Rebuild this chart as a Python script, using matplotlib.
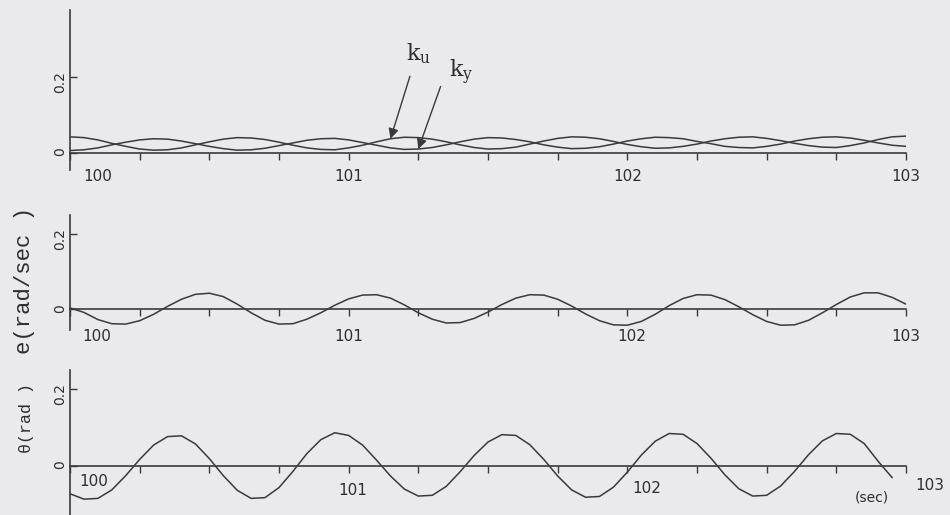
import numpy as np
import matplotlib.pyplot as plt
from matplotlib.ticker import MultipleLocator

# sample times (s), one reading every 0.05 s
t = np.linspace(100.0, 103.0, 61)

# gains k_u and k_y (top panel)
ku = [0.042, 0.040, 0.034, 0.025, 0.017, 0.010, 0.007,
      0.008, 0.013, 0.021, 0.029, 0.036, 0.040,
      0.039, 0.035, 0.028, 0.020, 0.013, 0.009,
      0.008, 0.013, 0.020, 0.029, 0.037, 0.041,
      0.040, 0.036, 0.029, 0.021, 0.014, 0.010,
      0.011, 0.015, 0.023, 0.031, 0.038, 0.042,
      0.041, 0.037, 0.030, 0.022, 0.016, 0.012,
      0.013, 0.017, 0.023, 0.031, 0.037, 0.041,
      0.042, 0.038, 0.032, 0.025, 0.019, 0.015,
      0.014, 0.019, 0.026, 0.035, 0.042, 0.044]
ky = [0.006, 0.008, 0.013, 0.021, 0.028, 0.034, 0.037,
      0.036, 0.031, 0.024, 0.017, 0.011, 0.007,
      0.008, 0.012, 0.019, 0.026, 0.033, 0.037,
      0.038, 0.034, 0.027, 0.020, 0.013, 0.009,
      0.010, 0.014, 0.021, 0.029, 0.036, 0.040,
      0.039, 0.035, 0.029, 0.021, 0.015, 0.011,
      0.012, 0.016, 0.023, 0.031, 0.037, 0.041,
      0.040, 0.037, 0.030, 0.024, 0.017, 0.014,
      0.013, 0.017, 0.023, 0.031, 0.037, 0.041,
      0.042, 0.039, 0.033, 0.026, 0.020, 0.017]

# e (rad/sec), middle panel
e = [0.004, -0.008, -0.027, -0.038, -0.039, -0.030, -0.013,
     0.008, 0.027, 0.040, 0.043, 0.034, 0.014,
     -0.009, -0.029, -0.039, -0.038, -0.026, -0.009,
     0.011, 0.028, 0.038, 0.039, 0.030, 0.012,
     -0.009, -0.026, -0.036, -0.035, -0.024, -0.007,
     0.013, 0.030, 0.039, 0.038, 0.027, 0.009,
     -0.012, -0.030, -0.041, -0.042, -0.032, -0.013,
     0.010, 0.029, 0.039, 0.038, 0.026, 0.007,
     -0.014, -0.032, -0.042, -0.041, -0.029, -0.009,
     0.013, 0.033, 0.044, 0.044, 0.032, 0.014]

# theta (rad), bottom panel, trace stops at 102.95 s
theta = [-0.072, -0.086, -0.084, -0.062, -0.025, 0.017, 0.054, 0.076,
         0.078, 0.057, 0.019, -0.025, -0.063, -0.084,
         -0.082, -0.056, -0.014, 0.032, 0.068, 0.086,
         0.079, 0.054, 0.015, -0.026, -0.060, -0.078,
         -0.076, -0.053, -0.015, 0.027, 0.062, 0.081,
         0.079, 0.055, 0.017, -0.026, -0.062, -0.081,
         -0.079, -0.055, -0.016, 0.028, 0.064, 0.084,
         0.082, 0.058, 0.020, -0.023, -0.059, -0.078,
         -0.076, -0.052, -0.014, 0.029, 0.065, 0.084,
         0.082, 0.058, 0.012, -0.030]

x_ticks = [100, 101, 102, 103]
x_labels = ['100', '101', '102', '103']
y_ticks = [0, 0.2]
y_labels = ['0', '0.2']

bg = '#eae9eb'
ink = '#3a3a3a'
txt = '#2e2e2e'
serif = ['DejaVu Serif']
mono = ['Liberation Mono', 'DejaVu Sans Mono']

plt.rcParams['mathtext.fontset'] = 'custom'
plt.rcParams['mathtext.rm'] = 'DejaVu Serif'

fig = plt.figure(figsize=(9.5, 5.15), dpi=100, facecolor=bg)
ax1 = fig.add_axes([0.0737, 0.670, 0.88, 0.311])
ax2 = fig.add_axes([0.0737, 0.359, 0.88, 0.223])
ax3 = fig.add_axes([0.0737, 0.0, 0.88, 0.282])


def style(ax, ylo, yhi):
    ax.set_facecolor('none')
    ax.set_xlim(100, 103)
    ax.set_ylim(ylo, yhi)
    ax.spines['top'].set_visible(False)
    ax.spines['right'].set_visible(False)
    ax.spines['bottom'].set_position(('data', 0))
    for s in ('left', 'bottom'):
        ax.spines[s].set_color(ink)
        ax.spines[s].set_linewidth(1.2)
    ax.xaxis.set_major_locator(MultipleLocator(1))
    ax.xaxis.set_minor_locator(MultipleLocator(0.25))
    ax.tick_params(axis='x', which='both', direction='out', length=5,
                   width=1, color=ink, labelbottom=False)
    ax.set_yticks(y_ticks)
    ax.set_yticklabels(y_labels)
    ax.tick_params(axis='y', direction='in', length=5, width=1, color=ink,
                   pad=2, labelrotation=90, labelsize=10, labelcolor=txt)


def xlabels(ax, offsets):
    for tk, lab, off in zip(x_ticks, x_labels, offsets):
        ax.annotate(lab, xy=(tk, 0), xytext=off, textcoords='offset points',
                    ha='center', va='center', fontsize=11, color=txt)


style(ax1, -0.045, 0.376)
ax1.plot(t, ku, color=ink, lw=1.1)
ax1.plot(t, ky, color=ink, lw=1.1)
xlabels(ax1, [(20, -17), (0, -17), (0, -17), (0, -17)])

# arrows pointing at the two curves
i_u, i_y = 23, 25
ax1.annotate('', xy=(t[i_u], ku[i_u]), xytext=(14, 45), textcoords='offset points',
             arrowprops=dict(arrowstyle='-|>', color=ink, lw=1.0,
                             mutation_scale=15, shrinkA=0, shrinkB=0))
ax1.annotate('', xy=(t[i_y], ky[i_y]), xytext=(16, 45), textcoords='offset points',
             arrowprops=dict(arrowstyle='-|>', color=ink, lw=1.0,
                             mutation_scale=15, shrinkA=0, shrinkB=0))
ax1.annotate(r'k$_\mathrm{u}$', xy=(t[i_u], ku[i_u]), xytext=(20, 61),
             textcoords='offset points', ha='center', va='center',
             fontsize=16, family=serif, color=txt)
ax1.annotate(r'k$_\mathrm{y}$', xy=(t[i_y], ky[i_y]), xytext=(31, 55),
             textcoords='offset points', ha='center', va='center',
             fontsize=16, family=serif, color=txt)

style(ax2, -0.055, 0.25)
ax2.plot(t, e, color=ink, lw=1.1)
xlabels(ax2, [(19, -19.5), (0, -19.5), (3, -19.5), (0, -19.5)])

style(ax3, -0.127, 0.249)
ax3.plot(t[:len(theta)], theta, color=ink, lw=1.1)
xlabels(ax3, [(17, -11.5), (3, -18), (14, -16.5), (17, -14)])
ax3.annotate('(sec)', xy=(103, 0), xytext=(-24.5, -23), textcoords='offset points',
             ha='center', va='center', fontsize=10, color=txt)

fig.text(0.026, 1 - 280 / 515, 'e(rad/sec )', rotation=90, ha='center',
         va='center', fontsize=16, family=mono, color=txt)
fig.text(0.028, 1 - 418 / 515, '\u03b8(rad )', rotation=90, ha='center',
         va='center', fontsize=12, family=mono, color=txt)

fig.savefig('out.png', dpi=100, facecolor=bg)
